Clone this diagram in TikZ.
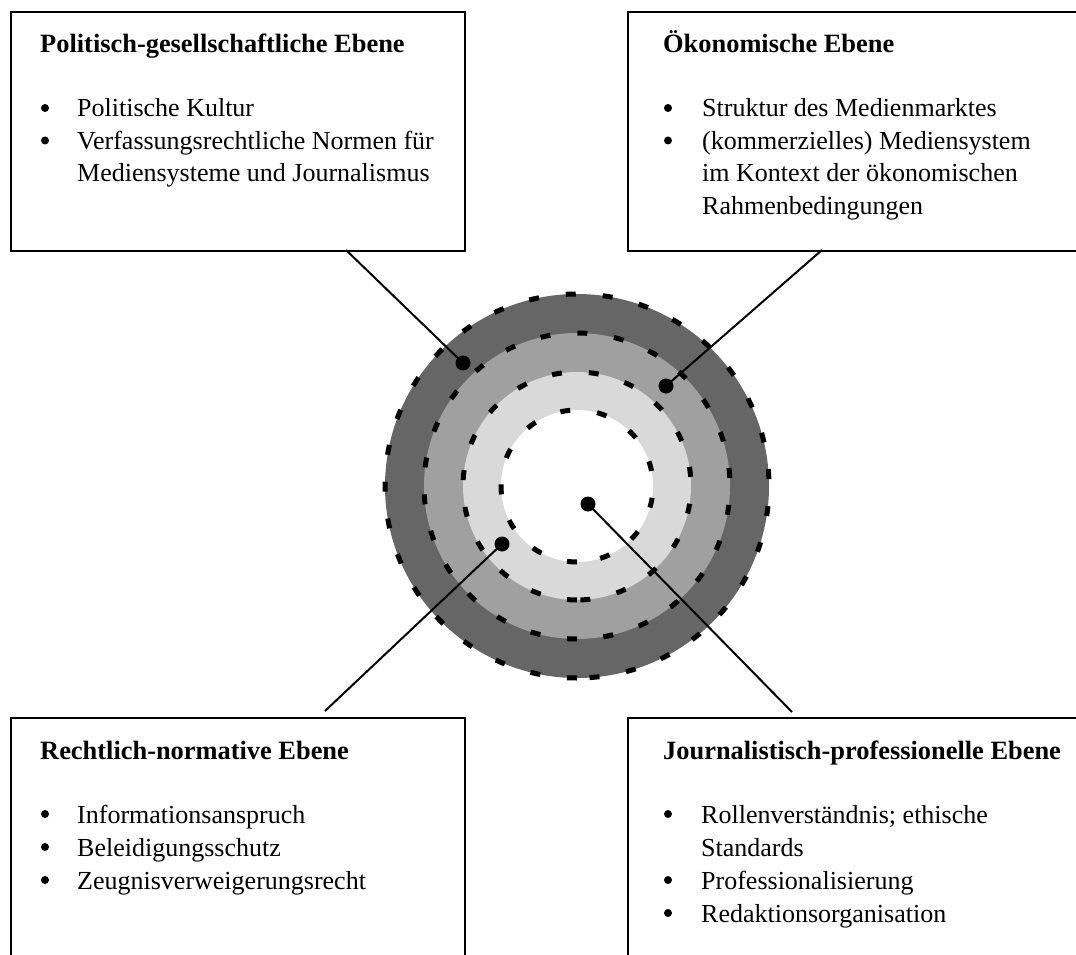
\documentclass[tikz,border=0pt]{standalone}
\usepackage{fontspec}
\setmainfont{Liberation Serif}
\usetikzlibrary{calc}
\definecolor{ringA}{HTML}{666666}
\definecolor{ringB}{HTML}{A0A0A0}
\definecolor{ringC}{HTML}{D9D9D9}
\begin{document}
\begin{tikzpicture}[x=1pt,y=-1pt,
  txt/.style={anchor=base west, inner sep=0pt, font=\fontsize{26}{33}\selectfont},
  ttl/.style={anchor=base west, inner sep=0pt, font=\fontsize{26.4}{33}\selectfont\bfseries},
  bul/.style={circle, fill=black, minimum size=8pt, inner sep=0pt},
  frame/.style={draw=black, line width=2pt, rectangle, anchor=north west, inner sep=0pt},
  ringline/.style={draw=black, line width=5pt, dash pattern=on 10pt off 27pt},
  dotnode/.style={circle, fill=black, minimum size=15pt, inner sep=0pt},
  conn/.style={draw=black, line width=2pt}]
\useasboundingbox (0,0) rectangle (1076,955);
\clip (0,0) rectangle (1076,955);

% boxes
\node[frame, minimum width=454pt, minimum height=239pt] (boxTL) at (10,11) {};
\node[frame, minimum width=470pt, minimum height=239pt] (boxTR) at (627,11) {};
\node[frame, minimum width=454pt, minimum height=260pt] (boxBL) at (10,717) {};
\node[frame, minimum width=470pt, minimum height=260pt] (boxBR) at (627,717) {};

% rings
\coordinate (c) at (577,486);
\fill[ringA] (c) circle[radius=192];
\fill[ringB] (c) circle[radius=153];
\fill[ringC] (c) circle[radius=114];
\fill[white] (c) circle[radius=76];
\foreach \r in {192,153,114,76}{
  \draw[ringline] ($(c)+(0,\r)$) arc[start angle=90, end angle=450, radius=\r];
}

% connectors
\coordinate (pTL) at (463,363);
\coordinate (pTR) at (666,386);
\coordinate (pBL) at (502,544);
\coordinate (pC) at (588,504);
\coordinate (eTL) at (346,250);
\coordinate (eTR) at (822,250);
\coordinate (eBL) at (325,711);
\coordinate (eBR) at (792,712);
\draw[conn] (pTL) -- (eTL);
\draw[conn] (pTR) -- (eTR);
\draw[conn] (pBL) -- (eBL);
\draw[conn] (pC) -- (eBR);
\node[dotnode] (dTL) at (pTL) {};
\node[dotnode] (dTR) at (pTR) {};
\node[dotnode] (dBL) at (pBL) {};
\node[dotnode] (dC) at (pC) {};

% top-left text
\node[ttl] (tTL) at (40,53) {Politisch-gesellschaftliche Ebene};
\node[bul] (bTL1) at (45,108) {};
\node[bul] (bTL2) at (45,140.5) {};
\node[txt] (lTL1) at (77,117) {Politische Kultur};
\node[txt] (lTL2) at (77,149.5) {Verfassungsrechtliche Normen für};
\node[txt] (lTL3) at (77,182) {Mediensysteme und Journalismus};

% top-right text
\node[ttl] (tTR) at (663,53) {Ökonomische Ebene};
\node[bul] (bTR1) at (668,108) {};
\node[bul] (bTR2) at (668,140.5) {};
\node[txt] (lTR1) at (702,117) {Struktur des Medienmarktes};
\node[txt] (lTR2) at (702,149.5) {(kommerzielles) Mediensystem};
\node[txt] (lTR3) at (702,182) {im Kontext der ökonomischen};
\node[txt] (lTR4) at (702,214.5) {Rahmenbedingungen};

% bottom-left text
\node[ttl] (tBL) at (40,759) {Rechtlich-normative Ebene};
\node[bul] (bBL1) at (45,814) {};
\node[bul] (bBL2) at (45,847) {};
\node[bul] (bBL3) at (45,880) {};
\node[txt] (lBL1) at (77,823) {Informationsanspruch};
\node[txt] (lBL2) at (77,856) {Beleidigungsschutz};
\node[txt] (lBL3) at (77,889) {Zeugnisverweigerungsrecht};

% bottom-right text
\node[ttl] (tBR) at (663,759) {Journalistisch-professionelle Ebene};
\node[bul] (bBR1) at (668,814) {};
\node[bul] (bBR2) at (668,880) {};
\node[bul] (bBR3) at (668,913) {};
\node[txt] (lBR1) at (701,823) {Rollenverständnis; ethische};
\node[txt] (lBR2) at (701,856) {Standards};
\node[txt] (lBR3) at (701,889) {Professionalisierung};
\node[txt] (lBR4) at (701,922) {Redaktionsorganisation};
\end{tikzpicture}
\end{document}
